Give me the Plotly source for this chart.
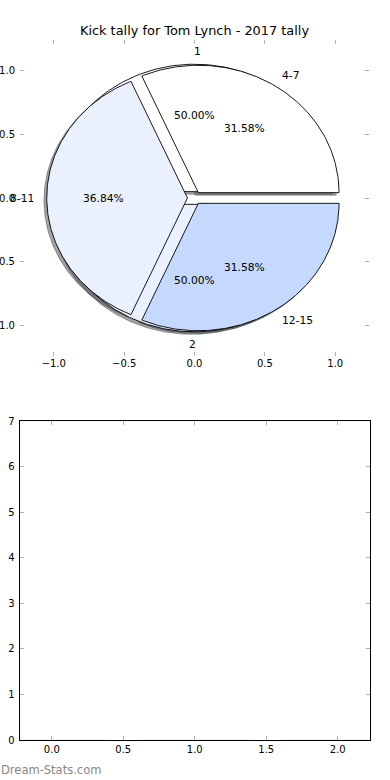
import numpy as np
import plotly.graph_objects as go

# ---- data ----
title_text = "Kick tally for Tom Lynch - 2017 tally"
inner_labels = ["1", "2"]
inner_values = [1, 1]
outer_labels = ["4-7", "8-11", "12-15"]
outer_values = [6, 7, 6]
bar_categories = [0, 1, 2]
bar_values = [0, 0, 0]

# ---- style ----
pie_colors = ["#ffffff", "#eaf1fd", "#c5d9fe"]
explode = 0.05
FONT = "DejaVu Sans"

fig = go.Figure()


def wedges(values, expl):
    vals = np.asarray(values, dtype=float)
    fr = vals / vals.sum()
    out = []
    t = 0.0
    for f in fr:
        t1, t2 = t, t + f
        tm = (t1 + t2) / 2 * 2 * np.pi
        cx, cy = expl * np.cos(tm), expl * np.sin(tm)
        th = np.linspace(t1 * 2 * np.pi, t2 * 2 * np.pi, 200)
        xs = np.concatenate([[cx], cx + np.cos(th), [cx]])
        ys = np.concatenate([[cy], cy + np.sin(th), [cy]])
        out.append((xs, ys, cx, cy, tm, f))
        t = t2
    return out


wa = wedges(inner_values, explode)
wb = wedges(outer_values, explode)


def shadow_col(hexc):
    h = hexc.lstrip("#")
    r, g, b = (int(h[i:i + 2], 16) for i in (0, 2, 4))
    return "rgba(%d,%d,%d,0.5)" % (0.3 * r, 0.3 * g, 0.3 * b)


# shadows first (lower z-order)
for ws in (wa, wb):
    for i, (xs, ys, *_r) in enumerate(ws):
        c = shadow_col(pie_colors[i % 3])
        fig.add_trace(go.Scatter(x=xs - 0.02, y=ys - 0.02, mode="lines", fill="toself",
                                 fillcolor=c, line=dict(color=c, width=0.9),
                                 hoverinfo="skip", showlegend=False, xaxis="x", yaxis="y"))
# wedges
for ws in (wa, wb):
    for i, (xs, ys, *_r) in enumerate(ws):
        fig.add_trace(go.Scatter(x=xs, y=ys, mode="lines", fill="toself",
                                 fillcolor=pie_colors[i % 3], line=dict(color="black", width=0.9),
                                 hoverinfo="skip", showlegend=False, xaxis="x", yaxis="y"))

annotations = []
for ws, labs in ((wa, inner_labels), (wb, outer_labels)):
    for (xs, ys, cx, cy, tm, f), lab in zip(ws, labs):
        xt = cx + 1.1 * np.cos(tm)
        yt = cy + 1.1 * np.sin(tm)
        right_side = np.cos(tm) > 0
        annotations.append(dict(x=xt, y=yt, xref="x", yref="y", text=lab, showarrow=False,
                                xanchor="left" if right_side else "right", yanchor="middle",
                                xshift=-2 if right_side else 2,
                                borderpad=0, font=dict(family=FONT, size=10.7, color="black")))
        xp = cx + 0.6 * np.cos(tm)
        yp = cy + 0.6 * np.sin(tm)
        annotations.append(dict(x=xp, y=yp, xref="x", yref="y", text="%.2f%%" % (f * 100),
                                showarrow=False, xanchor="center", yanchor="middle", borderpad=0,
                                font=dict(family=FONT, size=10.7, color="black")))

# empty bar chart
fig.add_trace(go.Bar(x=bar_categories, y=bar_values, marker_color="#c5d9fe",
                     showlegend=False, xaxis="x2", yaxis="y2"))

annotations.append(dict(x=0, y=1 - 770 / 780, xref="paper", yref="paper", text="Dream-Stats.com",
                        showarrow=False, xanchor="left", yanchor="middle", borderpad=0,
                        font=dict(family=FONT, size=11.5, color="#888888")))

tick_common = dict(ticks="inside", ticklen=4, tickcolor="#b0b0b0", tickwidth=1,
                   showgrid=False, zeroline=False, mirror="ticks", automargin=False,
                   tickfont=dict(family=FONT, size=10, color="black"))

fig.update_layout(
    width=390, height=780,
    margin=dict(l=0, r=0, t=0, b=0, autoexpand=False),
    paper_bgcolor="white", plot_bgcolor="rgba(0,0,0,0)",
    title=dict(text=title_text, x=194.5 / 390, xanchor="center", y=1 - 30 / 780, yanchor="middle",
               font=dict(family=FONT, size=12.9, color="black"), automargin=False),
    xaxis=dict(domain=[20 / 390, 369 / 390], range=[-1.24, 1.24], tickvals=[-1, -0.5, 0, 0.5, 1],
               tickformat=".1f", showline=False, anchor="y", **tick_common),
    yaxis=dict(domain=[1 - 356 / 780, 1 - 40 / 780], range=[-1.24, 1.24], tickvals=[-1, -0.5, 0, 0.5, 1],
               tickformat=".1f", showline=False, anchor="x", ticklabelstandoff=4, **tick_common),
    xaxis2=dict(domain=[19.5 / 390, 370 / 390], range=[-0.226, 2.226], tickvals=[0, 0.5, 1, 1.5, 2],
                tickformat=".1f", showline=True, linecolor="black", linewidth=1, anchor="y2", **tick_common),
    yaxis2=dict(domain=[1 - 740 / 780, 1 - 421 / 780], range=[0, 7], tickvals=list(range(8)),
                showline=True, linecolor="black", linewidth=1, anchor="x2", ticklabelstandoff=2,
                **tick_common),
    annotations=annotations,
)

fig.write_html("out.html", config={"displayModeBar": False},
               post_script="document.body.style.margin='0';document.body.style.overflow='hidden';")
